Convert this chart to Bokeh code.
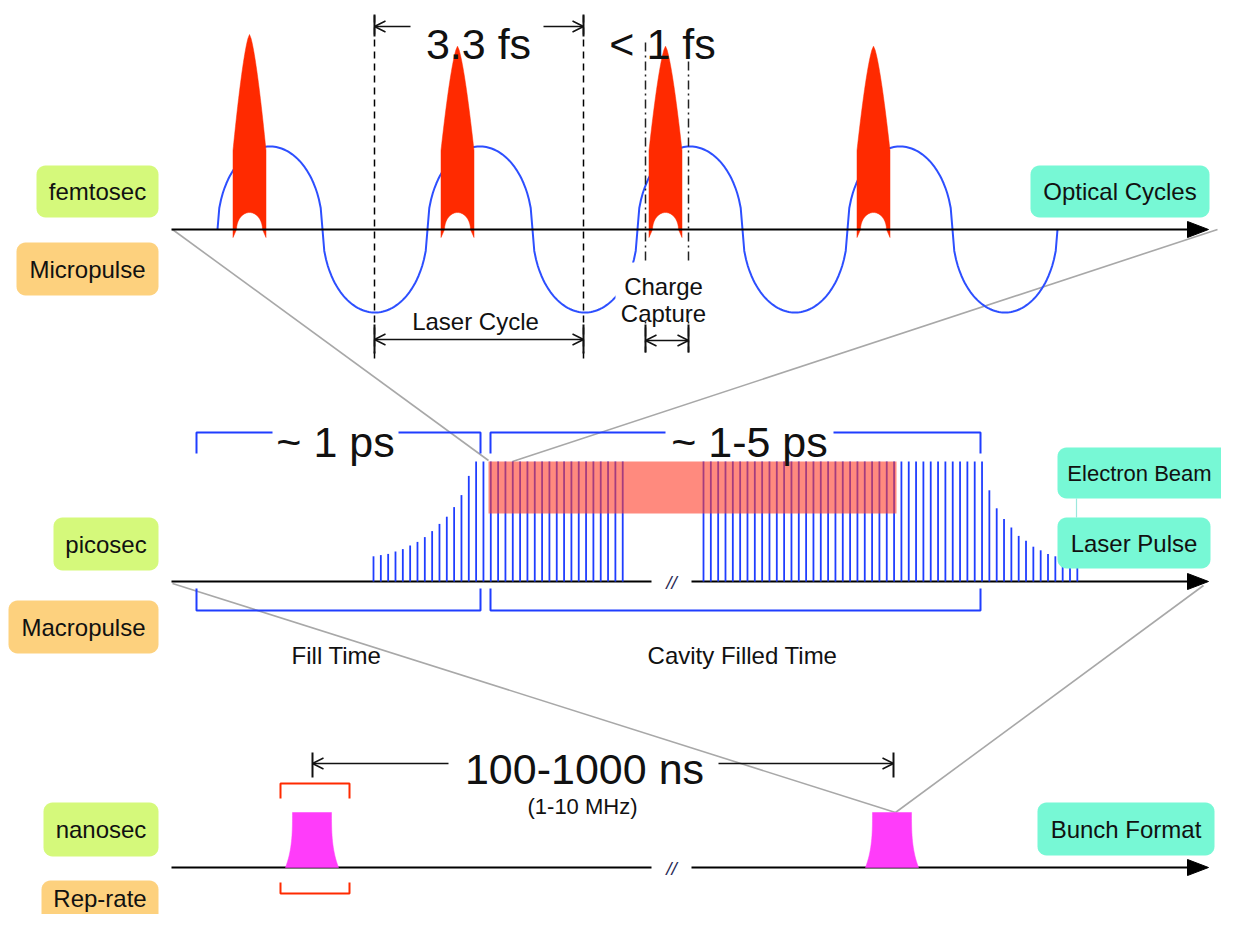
import numpy as np
from bokeh.plotting import figure
from bokeh.models import Range1d, Arrow, OpenHead
from bokeh.core.properties import value
from bokeh.embed import file_html
from bokeh.resources import INLINE

# ---------------- data ----------------
scale_labels = ["femtosec", "picosec", "nanosec"]
format_labels = ["Micropulse", "Macropulse", "Rep-rate"]
right_labels = ["Optical Cycles", "Electron Beam", "Laser Pulse", "Bunch Format"]
big_labels = ["3.3 fs", "< 1 fs", "~ 1 ps", "~ 1-5 ps", "100-1000 ns"]
small_labels = ["Laser Cycle", "Charge", "Capture", "Fill Time", "Cavity Filled Time"]
rate_label = "(1-10 MHz)"

# femtosecond micro-pulses: relative height
fs_pulse_heights = [1.0, 0.94, 0.94, 0.94]
n_optical_cycles = 4
# macropulse train: rise during fill time, flat top, decay tail (relative amplitude)
fill_ramp = [0.21, 0.22, 0.23, 0.25, 0.27, 0.30, 0.33, 0.37, 0.42, 0.48, 0.54, 0.62, 0.72, 0.88]
n_full_before_break = 21
n_full_after_break = 39
decay_tail = [0.76, 0.61, 0.52, 0.45, 0.38, 0.34, 0.29, 0.26, 0.23, 0.21, 0.19, 0.17, 0.15]
n_bunches = 2

# ---------------- layout ----------------
W, H = 1221, 914
FONT = value("Liberation Sans")
AX_Y = [229, 581, 867]
AX_X0, AX_TIP = 171, 1208
BREAK = (651, 691)

p = figure(width=W, height=H, x_range=Range1d(0, W), y_range=Range1d(H, 0),
           output_backend="svg", toolbar_location=None, min_border=0,
           x_axis_type=None, y_axis_type=None)
p.grid.visible = False
p.outline_line_color = None
p.background_fill_color = "white"


def rbox(x0, x1, y0, y1, r=9):
    xs, ys = [], []
    for cx, cy, a0 in [(x0 + r, y0 + r, np.pi), (x1 - r, y0 + r, 1.5 * np.pi),
                       (x1 - r, y1 - r, 0.0), (x0 + r, y1 - r, 0.5 * np.pi)]:
        t = np.linspace(a0, a0 + np.pi / 2, 8)
        xs += list(cx + r * np.cos(t))
        ys += list(cy + r * np.sin(t))
    return xs, ys


# ---- gray zoom connector lines ----
p.multi_line(xs=[[172, 488], [1217, 512], [172, 895], [1203, 895]],
             ys=[[229, 460], [229, 461], [583, 812], [585, 812]],
             line_color="#a8a8a8", line_width=1.6)

# ---- optical cycle wave (half ellipses) ----
w_start, half = 217, 105
amp = 83
wx, wy = [], []
for k in range(2 * n_optical_cycles):
    u = np.linspace(-1, 1, 60)
    wx += list(w_start + k * half + (u + 1) * half / 2)
    sgn = -1 if k % 2 == 0 else 1
    wy += list(AX_Y[0] + sgn * amp * np.sqrt(np.clip(1 - u ** 2, 0, 1)))
p.line(wx, wy, line_color="#2d4fff", line_width=2)

# ---- red femtosecond pulses ----
fx, fy = [], []
pulse_c0, pulse_step, tallest, hw, shoulder = 249, 208, 195, 16.5, 150
for i, h in enumerate(fs_pulse_heights):
    cx = pulse_c0 + i * pulse_step
    tip = AX_Y[0] - tallest * h
    ys = np.linspace(tip, shoulder, 30)
    w = hw * ((ys - tip) / (shoulder - tip)) ** 0.7
    xs_ = [cx - hw] + list((cx - w)[::-1]) + list(cx + w) + [cx + hw]
    ys_ = [AX_Y[0] + 8] + list(ys[::-1]) + list(ys) + [AX_Y[0] + 8]
    t = np.linspace(0, np.pi, 20)
    xs_ += list(cx + 13 * np.cos(t))
    ys_ += list(AX_Y[0] - 17 * np.sin(t))
    fx.append(xs_)
    fy.append(ys_)
p.patches(fx, fy, fill_color="#ff2a00", line_color="#ff2a00", line_width=0.5)

# ---- dashed guide lines ----
p.multi_line(xs=[[374, 374], [583, 583]], ys=[[15, 360], [15, 360]],
             line_color="black", line_width=1.5, line_dash="7 5")
p.multi_line(xs=[[645, 645], [688, 688]], ys=[[42, 352], [42, 352]],
             line_color="#222222", line_width=1.5, line_dash="9 4 2 4")

# white patch behind "Charge Capture"
p.quad(left=[615], right=[711], top=[262], bottom=[320], fill_color="white", line_color=None)

# ---- time axes ----
ax_xs = [[AX_X0, AX_TIP - 10], [AX_X0, BREAK[0]], [BREAK[1], AX_TIP - 10],
         [AX_X0, BREAK[0]], [BREAK[1], AX_TIP - 10]]
ax_ys = [[AX_Y[0]] * 2, [AX_Y[1]] * 2, [AX_Y[1]] * 2, [AX_Y[2]] * 2, [AX_Y[2]] * 2]
p.multi_line(xs=ax_xs, ys=ax_ys, line_color="black", line_width=2)
p.patches(xs=[[AX_TIP - 21, AX_TIP, AX_TIP - 21]] * 3,
          ys=[[y - 8, y, y + 8] for y in AX_Y],
          fill_color="black", line_color="black")
p.text(x=[(BREAK[0] + BREAK[1]) / 2] * 2, y=[AX_Y[1] + 1, AX_Y[2] + 1], text=["//", "//"],
       text_font=FONT, text_font_style="italic", text_font_size="19px",
       text_align="center", text_baseline="middle", text_color="#2a2a55")

# ---- macropulse train ----
step = 7.33
full_h = 120
left_amp = fill_ramp + [1.0] * n_full_before_break
right_amp = [1.0] * n_full_after_break + decay_tail
px = [373 + i * step for i in range(len(left_amp))] + [703 + i * step for i in range(len(right_amp))]
pa = left_amp + right_amp
p.segment(x0=px, y0=[AX_Y[1]] * len(px), x1=px, y1=[AX_Y[1] - full_h * a for a in pa],
          line_color="#1f3dff", line_width=1.8)
# electron beam overlay
p.quad(left=[488], right=[896], top=[461], bottom=[513],
       fill_color="#ff3c28", fill_alpha=0.6, line_color=None)

# ---- blue brackets ----
bx = [[196, 196, 272], [398, 480, 480], [490, 490, 665], [833, 980, 980],
      [196, 196, 480, 480], [490, 490, 980, 980]]
by = [[453, 432, 432], [432, 432, 453], [453, 432, 432], [432, 432, 453],
      [588, 610, 610, 588], [588, 610, 610, 588]]
p.multi_line(bx, by, line_color="#1f3dff", line_width=2)

# ---- red brackets around first bunch ----
p.multi_line([[280, 280, 349, 349], [280, 280, 349, 349]],
             [[798, 783, 783, 798], [882, 893, 893, 882]],
             line_color="#ff2a00", line_width=2)

# ---- magenta bunches ----
mx, my = [], []
bunch_c = [311.5, 891.5]
for i in range(n_bunches):
    cx = bunch_c[i]
    yy = np.linspace(812, AX_Y[2], 20)
    off = 19.5 + 7 * ((yy - 812) / (AX_Y[2] - 812)) ** 3
    mx.append(list(cx - off) + list((cx + off)[::-1]))
    my.append(list(yy) + list(yy[::-1]))
p.patches(mx, my, fill_color="#ff3cfa", line_color="#ff3cfa", line_width=0.5)

# ---- dimension arrows ----
def arrow(x0, y0, x1, y1, both=False):
    p.add_layout(Arrow(end=OpenHead(size=11, line_width=1.5, line_color="#111111"),
                       start=OpenHead(size=11, line_width=1.5, line_color="#111111") if both else None,
                       x_start=x0, y_start=y0, x_end=x1, y_end=y1,
                       line_width=1.5, line_color="#111111"))

arrow(410, 26, 374, 26)
arrow(543, 26, 583, 26)
arrow(374, 339, 583, 339, both=True)
arrow(645, 340, 688, 340, both=True)
arrow(448, 763, 312, 763)
arrow(718, 763, 893, 763)
p.multi_line(xs=[[374, 374], [583, 583], [374, 374], [583, 583], [645, 645], [688, 688],
                 [312, 312], [893, 893]],
             ys=[[14, 36], [14, 36], [324, 353], [324, 353], [324, 352], [324, 352],
                 [752, 777], [752, 777]],
             line_color="#111111", line_width=2)

# ---- rounded label boxes ----
def boxes(specs, color):
    xs, ys = [], []
    for (x0, x1, y0, y1) in specs:
        a, b = rbox(x0, x1, y0, y1)
        xs.append(a)
        ys.append(b)
    p.patches(xs, ys, fill_color=color, line_color=None)

green_boxes = [(36, 158, 165, 217), (53, 158, 517, 570), (43, 158, 802, 856)]
orange_boxes = [(16, 158, 242, 295), (8, 158, 600, 653), (41, 158, 880, 935)]
teal_boxes = [(1030, 1209, 165, 217), (1057, 1250, 447, 498), (1057, 1210, 517, 568),
              (1037, 1214, 802, 855)]
p.segment(x0=[1076], y0=[498], x1=[1076], y1=[517], line_color="#9be8dd", line_width=1.2)
boxes(green_boxes, "#d5f97b")
boxes(orange_boxes, "#fdd17e")
boxes(teal_boxes, "#77f8d5")

def centers(specs):
    return [(a + b) / 2 for a, b, _, _ in specs], [(c + d) / 2 for _, _, c, d in specs]

gx, gy = centers(green_boxes)
ox, oy = centers(orange_boxes)
ox[2], oy[2] = 99.5, 898
tx, ty = centers(teal_boxes)
lbl = dict(text_font=FONT, text_font_size="24px", text_align="center",
           text_baseline="middle", text_color="#111111")
p.text(x=gx, y=gy, text=scale_labels, **lbl)
p.text(x=ox, y=oy, text=format_labels, **lbl)
p.text(x=[tx[0], tx[2], tx[3]], y=[ty[0], ty[2], ty[3]],
       text=[right_labels[0], right_labels[2], right_labels[3]], **lbl)
p.text(x=[1139], y=[ty[1]], text=[right_labels[1]], text_font=FONT, text_font_size="22px",
       text_align="center", text_baseline="middle", text_color="#111111")

# ---- big timescale labels ----
p.text(x=[478, 662, 335, 749, 584], y=[43, 43, 441, 441, 768], text=big_labels,
       text_font=FONT, text_font_size="43px", text_align="center",
       text_baseline="alphabetic", text_color="#111111")
# ---- small annotations ----
p.text(x=[475, 663, 663, 336, 742], y=[321, 286, 313, 655, 655], text=small_labels,
       text_font=FONT, text_font_size="24px", text_align="center",
       text_baseline="alphabetic", text_color="#111111")
p.text(x=[582], y=[806], text=[rate_label], text_font=FONT, text_font_size="22px",
       text_align="center", text_baseline="alphabetic", text_color="#111111")

open("out.html", "w").write(file_html(p, INLINE))
